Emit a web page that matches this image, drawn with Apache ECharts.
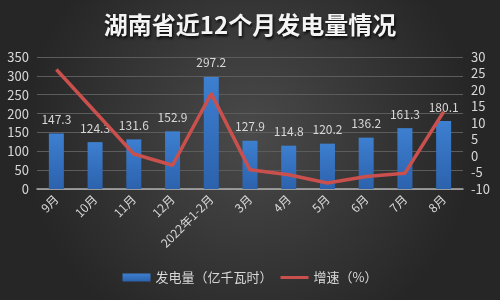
<!DOCTYPE html>
<html><head><meta charset="utf-8">
<script src="https://cdn.jsdelivr.net/npm/echarts@6/dist/echarts.min.js"></script>
<style>html,body{margin:0;padding:0;background:#333;}#c{width:500px;height:300px;}</style>
</head><body><div id="c"></div>
<script>
const categories = ['9月','10月','11月','12月','2022年1-2月','3月','4月','5月','6月','7月','8月'];
const generation = [147.3,124.3,131.6,152.9,297.2,127.9,114.8,120.2,136.2,161.3,180.1];
const growth = [26.2,13.4,0.6,-2.8,18.9,-4.2,-5.7,-8.2,-6.2,-5.2,13.4];
const leftTicks = [0,350,50];
const rightTicks = [-10,30,5];
const titleText = '湖南省近12个月发电量情况';
const seriesNames = ['发电量（亿千瓦时）','增速（%）'];

const chart = echarts.init(document.getElementById('c'), null, {renderer:'canvas'});
const font = '"Noto Sans CJK SC", "Noto Sans", sans-serif';
chart.setOption({
  animation:false,
  backgroundColor:{type:'radial',x:0.5,y:0.45,r:0.75,colorStops:[{offset:0,color:'#4a4a4a'},{offset:1,color:'#262626'}]},
  title:{text:titleText,left:'center',top:8,textStyle:{color:'#f4f4f4',fontSize:24,fontWeight:'bold',fontFamily:font,textShadowColor:'rgba(0,0,0,0.9)',textShadowBlur:3,textShadowOffsetX:1,textShadowOffsetY:2}},
  legend:{bottom:11,left:'center',itemGap:8,itemWidth:28,itemHeight:8,textStyle:{color:'#d8d8d8',fontSize:13,fontFamily:font},
    data:[{name:seriesNames[0],icon:'rect'},{name:seriesNames[1],icon:'path://M0,0 L0.01,0 M0,2.5 L28,2.5 L28,5.5 L0,5.5 Z M0,8 L0.01,8'}]},
  grid:{left:37,right:37,top:57,bottom:111,containLabel:false},
  xAxis:{type:'category',data:categories,axisLine:{lineStyle:{color:'#b0b0b0',width:1.5}},axisTick:{show:false},
    axisLabel:{color:'#d8d8d8',fontSize:12,fontFamily:font,rotate:45,interval:0,margin:8}},
  yAxis:[
    {type:'value',min:leftTicks[0],max:leftTicks[1],interval:leftTicks[2],axisLine:{show:false},axisTick:{show:false},
     splitLine:{lineStyle:{color:'#5c5c5c',width:1}},axisLabel:{color:'#d8d8d8',fontSize:13,fontFamily:font,margin:8}},
    {type:'value',min:rightTicks[0],max:rightTicks[1],interval:rightTicks[2],axisLine:{show:false},axisTick:{show:false},
     splitLine:{show:false},axisLabel:{color:'#d8d8d8',fontSize:13,fontFamily:font,margin:8}}
  ],
  series:[
    {name:seriesNames[0],type:'bar',data:generation,barWidth:15,yAxisIndex:0,
     itemStyle:{color:{type:'linear',x:0,y:0,x2:0,y2:1,colorStops:[{offset:0,color:'#3d7fd0'},{offset:1,color:'#2c62ad'}]}},
     label:{show:true,position:'top',distance:8,color:'#d8d8d8',fontSize:12,fontFamily:font}},
    {name:seriesNames[1],type:'line',data:growth,yAxisIndex:1,symbol:'none',
     lineStyle:{color:'#c9504c',width:3.5},itemStyle:{color:'#c9504c'}}
  ]
});
</script></body></html>
